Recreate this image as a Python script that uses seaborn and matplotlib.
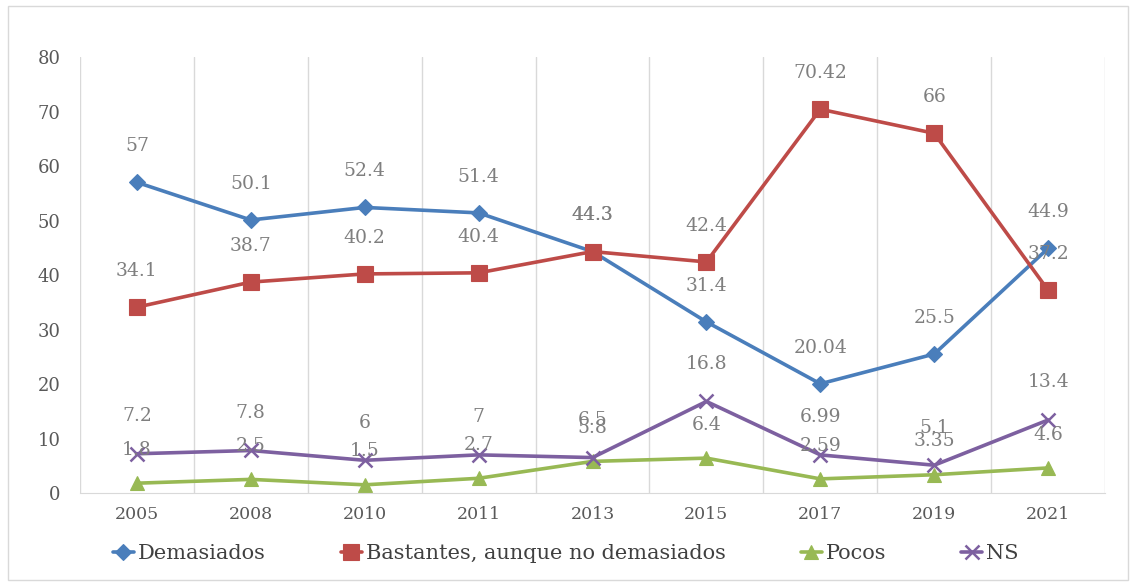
import matplotlib
matplotlib.use("Agg")
import matplotlib.pyplot as plt
import seaborn as sns
import pandas as pd

years = ["2005", "2008", "2010", "2011", "2013", "2015", "2017", "2019", "2021"]
demasiados = [57, 50.1, 52.4, 51.4, 44.3, 31.4, 20.04, 25.5, 44.9]
bastantes = [34.1, 38.7, 40.2, 40.4, 44.3, 42.4, 70.42, 66, 37.2]
pocos = [1.8, 2.5, 1.5, 2.7, 5.8, 6.4, 2.59, 3.35, 4.6]
ns = [7.2, 7.8, 6, 7, 6.5, 16.8, 6.99, 5.1, 13.4]

series_names = ["Demasiados", "Bastantes, aunque no demasiados", "Pocos", "NS"]
series_vals = [demasiados, bastantes, pocos, ns]

sns.set_style("white")
plt.rcParams["font.family"] = ["DejaVu Serif"]

rows = []
for name, vals in zip(series_names, series_vals):
    for i, (y, v) in enumerate(zip(years, vals)):
        rows.append({"serie": name, "x": i, "year": y, "valor": v})
df = pd.DataFrame(rows)

colors = {"Demasiados": "#4A7EBB", "Bastantes, aunque no demasiados": "#BE4B48",
          "Pocos": "#98B954", "NS": "#7D60A0"}
markers = {"Demasiados": "D", "Bastantes, aunque no demasiados": "s",
           "Pocos": "^", "NS": "x"}
msizes = {"Demasiados": 8, "Bastantes, aunque no demasiados": 11,
          "Pocos": 10, "NS": 10}
offsets = {"Demasiados": 26, "Bastantes, aunque no demasiados": 26,
           "Pocos": 24, "NS": 27}

fig = plt.figure(figsize=(11.34, 5.86), dpi=100)
ax = fig.add_axes([0.0705, 0.1587, 0.904, 0.744])

for name in series_names:
    sub = df[df["serie"] == name]
    sns.lineplot(data=sub, x="x", y="valor", ax=ax, color=colors[name],
                 linewidth=2.6, marker=markers[name], markersize=msizes[name],
                 markeredgecolor=colors[name], markeredgewidth=1.8 if name == "NS" else 0.8,
                 label=name)
    for _, r in sub.iterrows():
        ax.annotate(f"{r['valor']:g}", (r["x"], r["valor"]), xytext=(0, offsets[name]),
                    textcoords="offset points", ha="center", va="center",
                    fontsize=13.5, color="#7F7F7F")

ax.set_xlim(-0.5, len(years) - 0.5)
ax.set_ylim(0, 80)
ax.set_yticks(range(0, 81, 10))
ax.set_xticks(range(len(years)))
ax.set_xticklabels(years)
for b in [i + 0.5 for i in range(-1, len(years))]:
    ax.axvline(b, color="#D9D9D9", linewidth=1, zorder=0)
ax.tick_params(axis="x", length=0, labelsize=12.5, colors="#595959", pad=9)
ax.tick_params(axis="y", length=0, labelsize=13, colors="#595959", pad=14)
ax.set_xlabel("")
ax.set_ylabel("")
for s in ["top", "right", "left"]:
    ax.spines[s].set_visible(False)
ax.spines["bottom"].set_color("#D9D9D9")

ax.legend(loc="upper center", bbox_to_anchor=(0.474, -0.075), ncol=4, frameon=False,
          handlelength=1.0, handletextpad=0.2, columnspacing=3.6, fontsize=15,
          labelcolor="#404040")

fig.patches.append(plt.Rectangle((0.007, 0.01), 0.988, 0.98, transform=fig.transFigure,
                                 fill=False, edgecolor="#D9D9D9", linewidth=1))

fig.savefig("out.png", dpi=100)
